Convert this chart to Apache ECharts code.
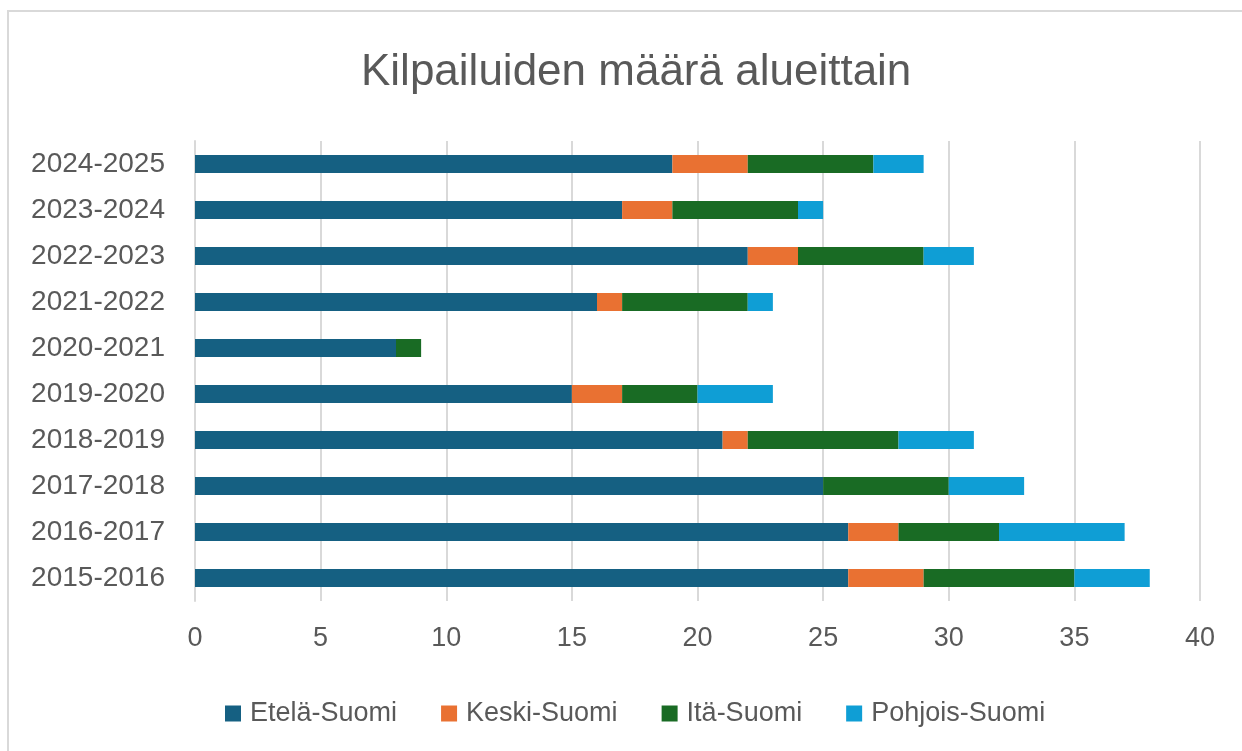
<!DOCTYPE html>
<html>
<head>
<meta charset="utf-8">
<script src="https://cdn.jsdelivr.net/npm/echarts@6/dist/echarts.min.js"></script>
<style>
  html,body{margin:0;padding:0;background:#fff;}
  #frame{position:absolute;left:7px;top:10px;width:1300px;height:800px;border:2px solid #d9d9d9;box-sizing:border-box;}
  #chart{position:absolute;left:0;top:0;width:1242px;height:751px;}
</style>
</head>
<body>
<div id="frame"></div>
<div id="chart"></div>
<script>
const categories = ['2015-2016','2016-2017','2017-2018','2018-2019','2019-2020','2020-2021','2021-2022','2022-2023','2023-2024','2024-2025'];
const etela   = [26, 26, 25, 21, 15, 8, 16, 22, 17, 19];
const keski   = [3, 2, 0, 1, 2, 0, 1, 2, 2, 3];
const ita     = [6, 4, 5, 6, 3, 1, 5, 5, 5, 5];
const pohjois = [3, 5, 3, 3, 3, 0, 1, 2, 1, 2];
const xTicks = [0, 5, 10, 15, 20, 25, 30, 35, 40];

const textColor = '#595959';
const font = 'Liberation Sans, Arial, sans-serif';
const chart = echarts.init(document.getElementById('chart'), null, {renderer: 'canvas'});
function s(name, data, color) {
  return {name, type: 'bar', stack: 'total', data, barWidth: 18,
    itemStyle: {color}, emphasis: {disabled: true}};
}
chart.setOption({
  animation: false,
  title: {text: 'Kilpailuiden määrä alueittain', left: 356, top: 46,
    textStyle: {color: textColor, fontSize: 44, fontWeight: 'normal', fontFamily: font}},
  legend: {bottom: 19, left: 220, itemWidth: 16, itemHeight: 16, itemGap: 44,
    icon: 'rect',
    textStyle: {color: textColor, fontSize: 27, fontFamily: font, padding: [0, 0, 0, 4]}},
  grid: {left: 195, right: 42, top: 141, bottom: 150, containLabel: false},
  xAxis: {type: 'value', min: xTicks[0], max: xTicks[xTicks.length-1], interval: 5,
    axisLine: {show: false}, axisTick: {show: false},
    splitLine: {lineStyle: {color: '#d9d9d9', width: 2}},
    axisLabel: {color: textColor, fontSize: 27, fontFamily: font, margin: 24}},
  yAxis: {type: 'category', data: categories,
    axisLine: {show: true, lineStyle: {color: '#d9d9d9', width: 2}}, axisTick: {show: false},
    axisLabel: {color: textColor, fontSize: 28, fontFamily: font, margin: 30}},
  series: [
    s('Etelä-Suomi', etela, '#156082'),
    s('Keski-Suomi', keski, '#E97132'),
    s('Itä-Suomi', ita, '#196B24'),
    s('Pohjois-Suomi', pohjois, '#0F9ED5')
  ]
});
</script>
</body>
</html>
